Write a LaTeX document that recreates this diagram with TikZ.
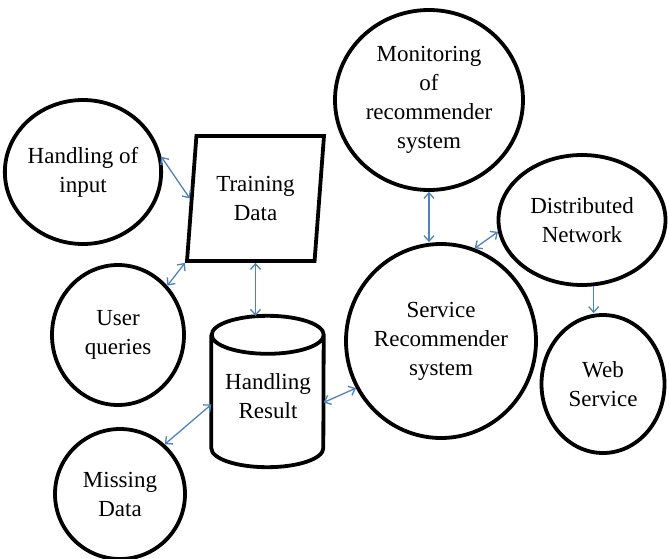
\documentclass[tikz,border=0pt]{standalone}
\usepackage{fontspec}
\setmainfont{Liberation Serif}
\usetikzlibrary{shapes.geometric,arrows.meta}
\begin{document}
\begin{tikzpicture}[x=1pt,y=-1pt,
  every node/.style={font=\fontsize{23}{29}\selectfont, align=center, inner sep=0pt},
  bub/.style={ellipse, draw=black, line width=3.8pt},
  outline/.style={draw=black, line width=3.8pt},
  conn/.style={draw={rgb,255:red,79;green,129;blue,189}, line width=1.3pt,
    arrows={Straight Barb[length=5.5pt,width=10pt]-Straight Barb[length=5.5pt,width=10pt]}},
  oneway/.style={draw={rgb,255:red,79;green,129;blue,189}, line width=1.3pt,
    arrows={-Straight Barb[length=5.5pt,width=10pt]}}]
\useasboundingbox (0,0) rectangle (669,559);
\node[bub, minimum width=146pt, minimum height=144pt] (hin) at (83,172) {Handling of\\input};
\node[trapezium, trapezium left angle=82, trapezium right angle=98, trapezium stretches=true,
  outline, minimum width=137pt, minimum height=125pt] (td) at (255.5,198.5) {Training\\Data};
\node[bub, minimum width=132pt, minimum height=140pt] (uq) at (118,335) {User\\queries};
\node[rectangle, minimum width=112pt, minimum height=151pt] (hr) at (267.5,391.5) {};
\draw[outline] ([yshift=-19pt]hr.north west) -- ([yshift=19pt]hr.south west)
  arc[start angle=180, end angle=360, x radius=56pt, y radius=19pt]
  -- ([yshift=-19pt]hr.north east)
  arc[start angle=0, end angle=360, x radius=56pt, y radius=19pt];
\node (hrt) at (268,396) {Handling\\Result};
\node[bub, minimum width=130pt, minimum height=130pt] (md) at (120,494) {Missing\\Data};
\node[bub, minimum width=188pt, minimum height=180pt] (mon) at (429,100) {Monitoring\\of\\recommender\\system};
\node[bub, minimum width=167pt, minimum height=130pt] (dn) at (582,220) {Distributed\\Network};
\node[bub, minimum width=190pt, minimum height=194pt] (sr) at (441,341) {Service\\Recommender\\system};
\node[bub, minimum width=123pt, minimum height=138pt] (ws) at (603,384) {Web\\Service};
\draw[conn] (hin.11) -- (td.west);
\draw[conn] (uq.45) -- (td.bottom left corner);
\draw[conn] (td.south) -- (td.south |- hr.north);
\draw[conn] (hr.193) -- (md.48);
\draw[conn] (hr.349) -- (sr.209);
\draw[conn] (mon.south) -- (mon.south |- sr.north);
\draw[conn] (sr.70) -- (dn.188);
\draw[oneway] (dn.-80) -- (dn.-80 |- ws.north);
\end{tikzpicture}
\end{document}
